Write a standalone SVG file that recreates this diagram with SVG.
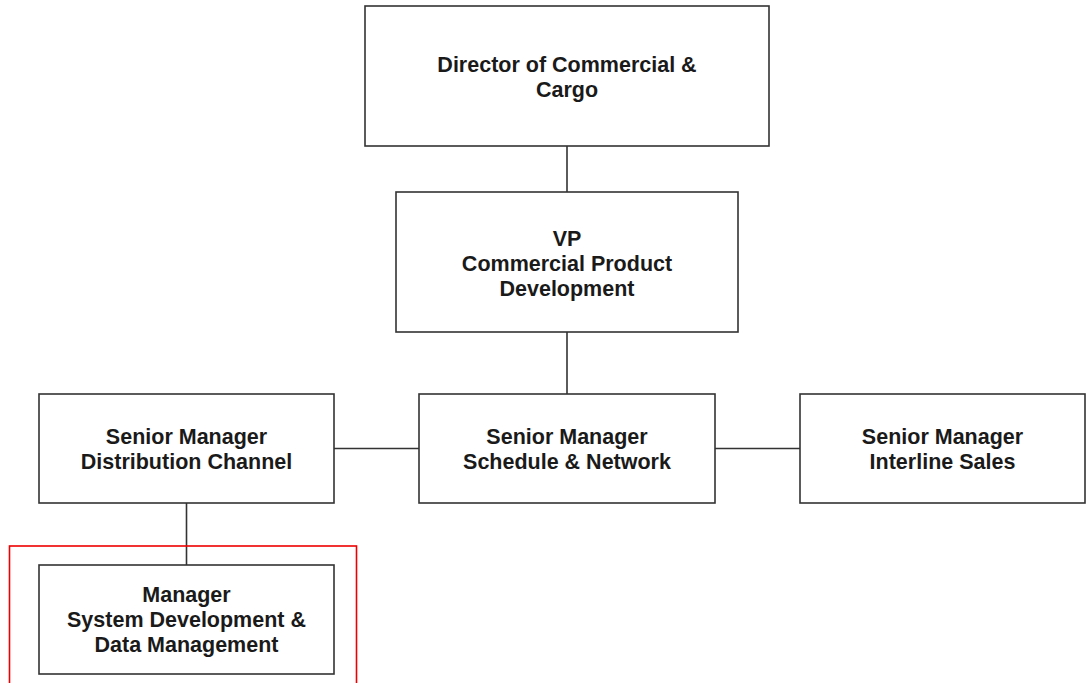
<svg xmlns="http://www.w3.org/2000/svg" width="1088" height="683" viewBox="0 0 1088 683">
<style>
.box{fill:#fff;stroke:#333;stroke-width:1.6}
.lbl{font-family:"Liberation Sans",Arial,sans-serif;font-weight:bold;font-size:21.5px;fill:#1a1a1a;text-anchor:middle}
.conn{stroke:#333;stroke-width:1.6;fill:none}
</style>
<rect width="1088" height="683" fill="#fff"/>
<g id="connectors">
<line class="conn" x1="567" y1="146" x2="567" y2="192"/>
<line class="conn" x1="567" y1="332" x2="567" y2="394"/>
<line class="conn" x1="334" y1="448.5" x2="419" y2="448.5"/>
<line class="conn" x1="715" y1="448.5" x2="800" y2="448.5"/>
<line class="conn" x1="186.5" y1="503" x2="186.5" y2="565"/>
</g>
<g id="director">
<rect class="box" x="365" y="6" width="404" height="140"/>
<text class="lbl" x="567" y="72">Director of Commercial &amp;</text>
<text class="lbl" x="567" y="97">Cargo</text>
</g>
<g id="vp">
<rect class="box" x="396" y="192" width="342" height="140"/>
<text class="lbl" x="567" y="246">VP</text>
<text class="lbl" x="567" y="271">Commercial Product</text>
<text class="lbl" x="567" y="296">Development</text>
</g>
<g id="sm-distribution">
<rect class="box" x="39" y="394" width="295" height="109"/>
<text class="lbl" x="186.5" y="444">Senior Manager</text>
<text class="lbl" x="186.5" y="469">Distribution Channel</text>
</g>
<g id="sm-schedule">
<rect class="box" x="419" y="394" width="296" height="109"/>
<text class="lbl" x="567" y="444">Senior Manager</text>
<text class="lbl" x="567" y="469">Schedule &amp; Network</text>
</g>
<g id="sm-interline">
<rect class="box" x="800" y="394" width="285" height="109"/>
<text class="lbl" x="942.5" y="444">Senior Manager</text>
<text class="lbl" x="942.5" y="469">Interline Sales</text>
</g>
<g id="manager">
<rect class="box" x="39" y="565" width="295" height="109"/>
<text class="lbl" x="186.5" y="602">Manager</text>
<text class="lbl" x="186.5" y="627">System Development &amp;</text>
<text class="lbl" x="186.5" y="652">Data Management</text>
</g>
<g id="highlight">
<rect x="9.5" y="546" width="347" height="150" fill="none" stroke="#e00" stroke-width="1.6"/>
</g>
</svg>
